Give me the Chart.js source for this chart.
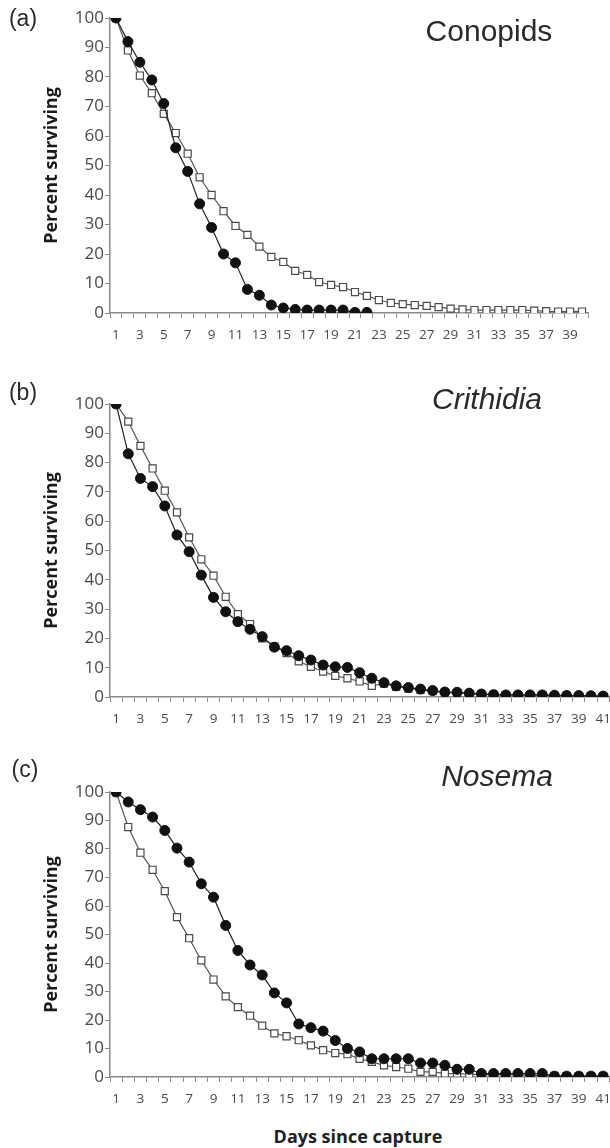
<!DOCTYPE html>
<html>
<head>
<meta charset="utf-8">
<script src="https://cdn.jsdelivr.net/npm/chart.js"></script>
<style>
  html, body { margin: 0; padding: 0; background: #fff; overflow: hidden; }
  #page { position: relative; width: 610px; height: 1148px; }
  canvas { position: absolute; left: 0; }
  .txt { position: absolute; white-space: nowrap; color: #2a2a2a; transform: translate(-50%, -50%); }
  .lbl { font-family: "Liberation Sans", Arial, sans-serif; font-size: 23px; }
  .ttl { font-family: "Liberation Sans", Arial, sans-serif; font-size: 30px; }
  .xt { font-family: "Open Sans", sans-serif; font-weight: bold; font-size: 18px; color: #222; }
</style>
</head>
<body>
<div id="page">
  <canvas id="ca" width="610" height="345" style="top:0"></canvas>
  <canvas id="cb" width="620" height="380" style="top:345px"></canvas>
  <canvas id="cc" width="620" height="382" style="top:725px"></canvas>
  <div class="txt lbl" style="left:23px;top:18px">(a)</div>
  <div class="txt ttl" style="left:489px;top:31px">Conopids</div>
  <div class="txt lbl" style="left:23px;top:392px">(b)</div>
  <div class="txt ttl" style="left:487px;top:399px;font-style:italic">Crithidia</div>
  <div class="txt lbl" style="left:25px;top:769px">(c)</div>
  <div class="txt ttl" style="left:497px;top:776px;font-style:italic">Nosema</div>
  <div class="txt xt" style="left:358px;top:1136px">Days since capture</div>
</div>
<script>
// days since capture
var daysA = [];
for (var d = 1; d <= 40; d++) daysA.push(String(d));
var daysBC = [];
for (var d = 1; d <= 41; d++) daysBC.push(String(d));

var yTicks = [0, 10, 20, 30, 40, 50, 60, 70, 80, 90, 100];

// (a) Conopids
var conopInfected = [100, 92, 85, 79, 71, 56, 48, 37, 29, 20, 17, 8, 6, 2.7, 1.7, 1.2, 1, 1, 1, 1, 0.2, 0.2];
var conopUninfected = [100, 89, 80.5, 74.5, 67.5, 61, 54, 46, 40, 34.5, 29.5, 26.5, 22.5, 19, 17.3, 14.3, 12.9, 10.5,
  9.5, 8.8, 7.1, 5.8, 4.4, 3.4, 3, 2.7, 2.4, 2, 1.5, 1.2, 1, 1, 1, 1, 1, 0.8, 0.6, 0.5, 0.5, 0.5];

// (b) Crithidia
var crithInfected = [100, 83, 74.6, 71.8, 65.2, 55.3, 49.6, 41.6, 34, 29.1, 25.7, 23.1, 20.6, 17, 15.8, 14.1, 12.6,
  10.9, 10.3, 10.1, 8.3, 6.4, 4.9, 3.8, 3.2, 2.7, 2.2, 1.7, 1.6, 1.3, 1, 0.8, 0.7, 0.7, 0.7, 0.7, 0.6, 0.5, 0.5, 0.4, 0.3];
var crithUninfected = [100, 94, 85.7, 78, 70.4, 63, 54.5, 47, 41.4, 34.2, 28.3, 24.9, 20, 17.2, 15, 12.2, 10.3,
  8.7, 7.2, 6.4, 5.3, 3.8, 4.6, 3.5, 2.9, 2.4, 2, 1.5, 1.4, 1.1, 0.9, 0.7, 0.6, 0.6, 0.6, 0.6, 0.5, 0.4, 0.4, 0.3, 0.2];

// (c) Nosema
var nosemaInfected = [100, 96.5, 93.8, 91.2, 86.5, 80.3, 75.4, 67.8, 63.1, 53.2, 44.4, 39.3, 35.8, 29.5, 26, 18.6,
  17.3, 16.1, 12.8, 10, 8.8, 6.4, 6.4, 6.4, 6.4, 4.9, 4.9, 4.1, 2.7, 2.7, 1.2, 1.2, 1.2, 1.2, 1.2, 1.2, 0.3, 0.3, 0.3, 0.3, 0.3];
var nosemaUninfected = [100, 87.7, 78.7, 72.7, 65.2, 56.1, 48.7, 40.9, 34.2, 28.3, 24.5, 21.5, 18, 15.3, 14.3, 12.9,
  11.1, 9.4, 8.4, 8, 6.4, 5.3, 4.1, 3.5, 2.9, 1.8, 1.8, 1.2, 1.2, 1, 0.8, 0.8, 0.8, 0.7, 0.6, 0.5, 0.4, 0.3, 0.3, 0.3, 0.3];

var axisGrey = '#8a8a8a';
var tickGrey = '#4a4a4a';

function makePanel(id, days, infected, uninfected, pad, xHeight) {
  new Chart(document.getElementById(id), {
    type: 'line',
    data: {
      labels: days,
      datasets: [
        {
          data: infected,
          borderColor: '#222',
          borderWidth: 1.2,
          pointStyle: 'circle',
          pointRadius: 5,
          pointBackgroundColor: '#111',
          pointBorderColor: '#111',
          pointBorderWidth: 1,
          tension: 0
        },
        {
          data: uninfected,
          borderColor: '#555',
          borderWidth: 1.2,
          pointStyle: 'rect',
          pointRadius: 5,
          pointBackgroundColor: '#fff',
          pointBorderColor: '#4a4a4a',
          pointBorderWidth: 1.2,
          tension: 0
        }
      ]
    },
    options: {
      responsive: false,
      animation: false,
      layout: { padding: pad },
      plugins: { legend: { display: false }, tooltip: { enabled: false } },
      scales: {
        x: {
          offset: true,
          afterFit: function (s) { s.height = xHeight; },
          grid: { offset: true, drawOnChartArea: false, drawTicks: true, tickLength: 5, color: axisGrey },
          border: { color: axisGrey, width: 1.5 },
          ticks: {
            autoSkip: false,
            maxRotation: 0,
            padding: 9,
            color: tickGrey,
            font: { family: 'Open Sans', size: 13.5 },
            callback: function (v, i) { return i % 2 === 0 ? days[i] : ''; }
          }
        },
        y: {
          min: 0,
          max: 100,
          afterFit: function (s) { s.width = 110; },
          afterBuildTicks: function (s) { s.ticks = yTicks.map(function (t) { return { value: t }; }); },
          grid: { drawOnChartArea: false, drawTicks: true, tickLength: 5, color: axisGrey },
          border: { color: axisGrey, width: 1.5 },
          ticks: { padding: 1, color: tickGrey, font: { family: 'Open Sans', size: 17 } },
          title: {
            display: true,
            text: 'Percent surviving',
            color: '#1a1a1a',
            padding: { top: 41, bottom: 0 },
            font: { family: 'Open Sans', size: 18, weight: 'bold' }
          }
        }
      }
    }
  });
}

makePanel('ca', daysA, conopInfected, conopUninfected, { top: 18, right: 22, left: 0, bottom: 0 }, 32);
makePanel('cb', daysBC, crithInfected, crithUninfected, { top: 59, right: 10, left: 0, bottom: 0 }, 28);
makePanel('cc', daysBC, nosemaInfected, nosemaUninfected, { top: 67, right: 10, left: 0, bottom: 0 }, 30);
</script>
</body>
</html>
